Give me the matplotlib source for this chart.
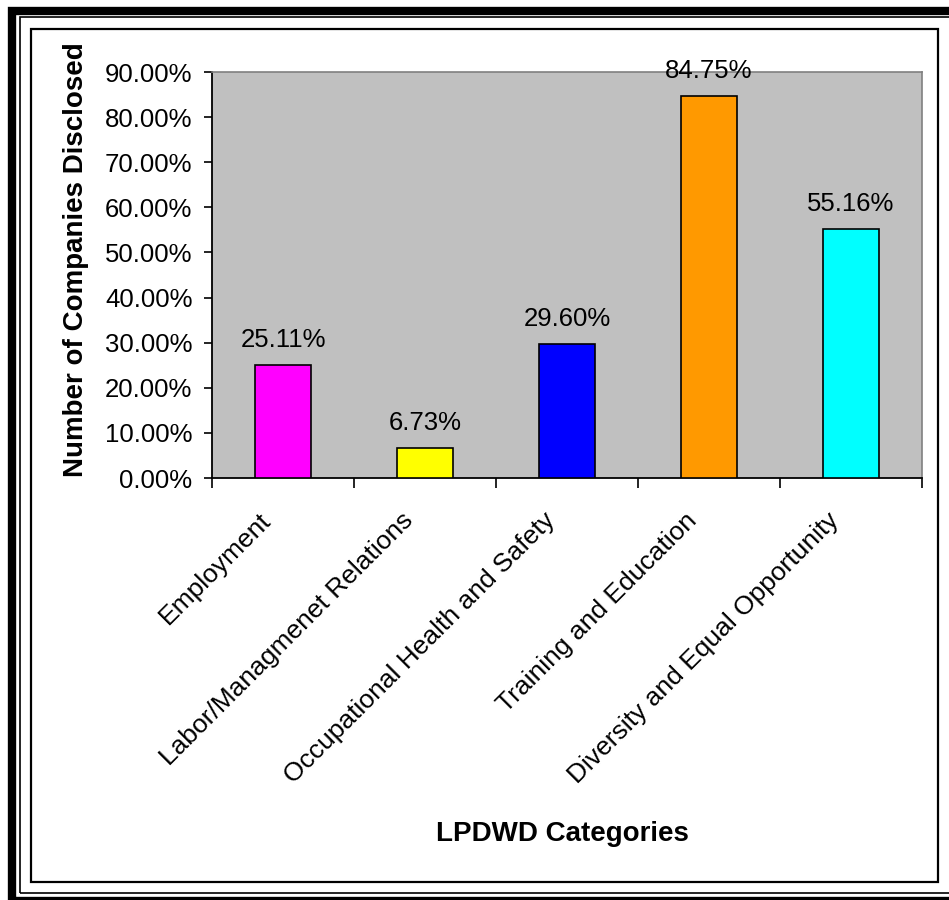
import matplotlib
matplotlib.use("Agg")
import matplotlib.pyplot as plt
import matplotlib.transforms as mtransforms
from matplotlib.patches import Rectangle

plt.rcParams['font.family'] = ['Liberation Sans', 'DejaVu Sans']

# share of companies disclosing each LPDWD category (%)
categories = ['Employment', 'Labor/Managmenet Relations',
              'Occupational Health and Safety', 'Training and Education',
              'Diversity and Equal Opportunity']
values = [25.11, 6.73, 29.60, 84.75, 55.16]
colors = ['#FF00FF', '#FFFF00', '#0000FF', '#FF9900', '#00FFFF']
yticks = [0, 10, 20, 30, 40, 50, 60, 70, 80, 90]

W, H = 949, 900
fig = plt.figure(figsize=(W / 100, H / 100), dpi=100)

def px_rect(x0, y0, x1, y1, **kw):
    # rectangle given in pixel coords (origin top-left)
    r = Rectangle((x0 / W, 1 - y1 / H), (x1 - x0) / W, (y1 - y0) / H,
                  transform=fig.transFigure, fill=False, **kw)
    fig.add_artist(r)

# double frame around the chart
px_rect(12, 10.5, 960, 901, edgecolor='black', linewidth=6.0)
px_rect(20, 16.5, 955, 893, edgecolor='black', linewidth=1.2)
px_rect(31, 29, 938, 882, edgecolor='black', linewidth=1.6)

ax = fig.add_axes([212 / W, 1 - 478 / H, 710 / W, 406 / H])
ax.set_facecolor('#C0C0C0')

x = list(range(len(categories)))
bars = ax.bar(x, values, width=0.4, color=colors, edgecolor='black',
              linewidth=1.2, zorder=3)

for xi, v in zip(x, values):
    ax.annotate(f'{v:.2f}%', (xi, v), xytext=(0, 13),
                textcoords='offset points', ha='center', va='baseline',
                fontsize=18.5)

ax.set_xlim(-0.5, len(categories) - 0.5)
ax.set_ylim(0, 90)
ax.set_yticks(yticks)
ax.set_yticklabels([f'{t:.2f}%' for t in yticks], fontsize=18.5)
ax.tick_params(axis='y', direction='out', length=6, width=1.2, pad=8)

ax.set_xticks(x)
ax.set_xticklabels(categories, rotation=45, ha='right',
                   rotation_mode='anchor', fontsize=19)
ax.tick_params(axis='x', which='major', length=0, pad=22)
ax.set_xticks([i - 0.5 for i in range(len(categories) + 1)], minor=True)
ax.tick_params(axis='x', which='minor', direction='out', length=7, width=1.2)

# nudge the slanted category names a little to the left
shift = mtransforms.ScaledTranslation(-0.24, 0, fig.dpi_scale_trans)
for lbl in ax.get_xticklabels():
    lbl.set_transform(lbl.get_transform() + shift)

for side in ('left', 'bottom'):
    ax.spines[side].set_color('black')
    ax.spines[side].set_linewidth(1.3)
for side in ('top', 'right'):
    ax.spines[side].set_color('#808080')
    ax.spines[side].set_linewidth(1.2)

ax.set_ylabel('Number of Companies Disclosed', fontsize=20, fontweight='bold')
ax.yaxis.set_label_coords(-0.173, 0.537)
ax.set_xlabel('LPDWD Categories', fontsize=20, fontweight='bold')
ax.xaxis.set_label_coords(0.493, -0.845)

fig.savefig('out.png', dpi=100)
